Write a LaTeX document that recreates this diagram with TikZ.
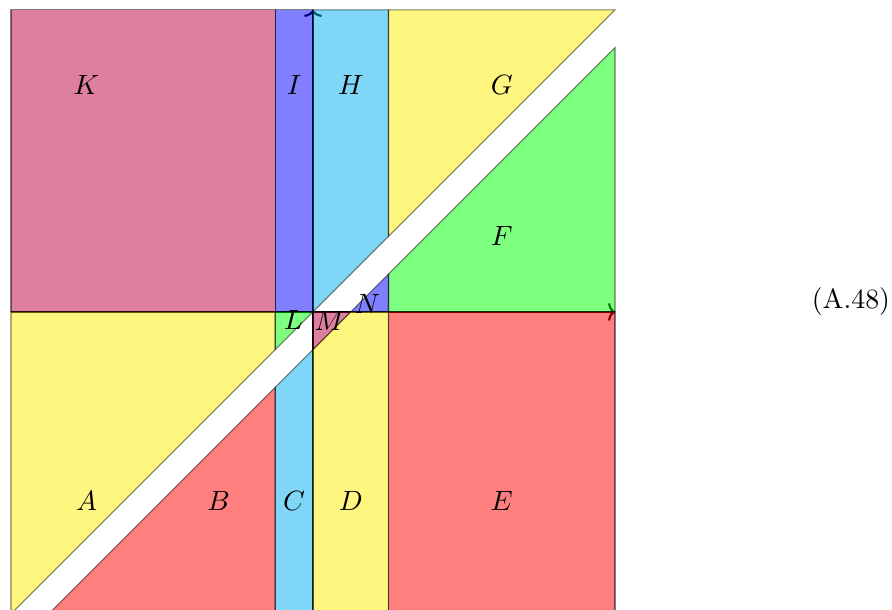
\documentclass[tikz,border=0pt]{standalone}
\usepackage{xcolor}
\usepackage{tikz}
\usetikzlibrary{arrows.meta}
\definecolor{regpurple}{RGB}{191,0,64}
\definecolor{regblue}{RGB}{0,0,255}
\definecolor{regcyan}{RGB}{0,174,239}
\definecolor{regyellow}{RGB}{255,238,0}
\definecolor{reggreen}{RGB}{0,255,0}
\definecolor{regred}{RGB}{255,0,0}
\tikzset{
    region/.style={
        draw=black,
        opacity=0.5,
        line width=0.4pt
    },
    axis/.style={
        -{To[length=2.6pt, width=6.8pt]},
        thick,
        draw=black
    }
}

\begin{document}
\begin{tikzpicture}[
    every node/.append style={scale=1.05}
]
    \useasboundingbox (-4.146,-3.947) rectangle (7.669,4.132);
    \clip (-4.146,-3.947) rectangle (7.669,4.132);

    % Axes
    \coordinate (west) at (-4,0);
    \coordinate (east) at (4,0);
    \coordinate (south) at (0,-4);
    \coordinate (north) at (0,4);
    \draw[axis] (west) -- (east);
    \draw[axis] (south) -- (north);

    % Regions above the band
    \filldraw[region, fill=regpurple] (-4,0) rectangle (-0.5,4);
    \filldraw[region, fill=regblue] (-0.5,0) rectangle (0,4);
    \filldraw[region, fill=regcyan] (0,0) -- (1,1) -- (1,4) -- (0,4) -- cycle;
    \filldraw[region, fill=regyellow] (1,1) -- (4,4) -- (1,4) -- cycle;
    \filldraw[region, fill=regyellow] (-4,0) -- (-0.5,0) -- (-0.5,-0.5) -- (-4,-4) -- cycle;
    \filldraw[region, fill=reggreen] (-0.5,0) -- (0,0) -- (-0.5,-0.5) -- cycle;

    % Region inside the band
    \filldraw[region, fill=regpurple] (0,0) -- (0.5,0) -- (0,-0.5) -- cycle;

    % Regions below the band
    \filldraw[region, fill=reggreen] (1,0) -- (4,0) -- (4,3.5) -- (1,0.5) -- cycle;
    \filldraw[region, fill=regblue] (0.5,0) -- (1,0) -- (1,0.5) -- cycle;
    \filldraw[region, fill=regred] (-3.5,-4) -- (-0.5,-4) -- (-0.5,-1) -- cycle;
    \filldraw[region, fill=regcyan] (-0.5,-4) -- (0,-4) -- (0,-0.5) -- (-0.5,-1) -- cycle;
    \filldraw[region, fill=regyellow] (0,-4) -- (1,-4) -- (1,0) -- (0.5,0) -- (0,-0.5) -- cycle;
    \filldraw[region, fill=regred] (1,-4) rectangle (4,0);

    % Labels
    \foreach \name/\x/\y in {
        K/-3/3,
        I/-0.25/3,
        H/0.5/3,
        G/2.5/3,
        F/2.5/1,
        A/-3/-2.5,
        B/-1.25/-2.5,
        C/-0.25/-2.5,
        D/0.5/-2.5,
        E/2.5/-2.5,
        L/-0.26/-0.11,
        M/0.22/-0.12,
        N/0.72/0.1%
    } {
        \node (lab\name) at (\x,\y) {$\name$};
    }

    \node[anchor=base east, inner sep=0pt] (eqno) at (7.65,0.05) {(A.48)};
\end{tikzpicture}
\end{document}
